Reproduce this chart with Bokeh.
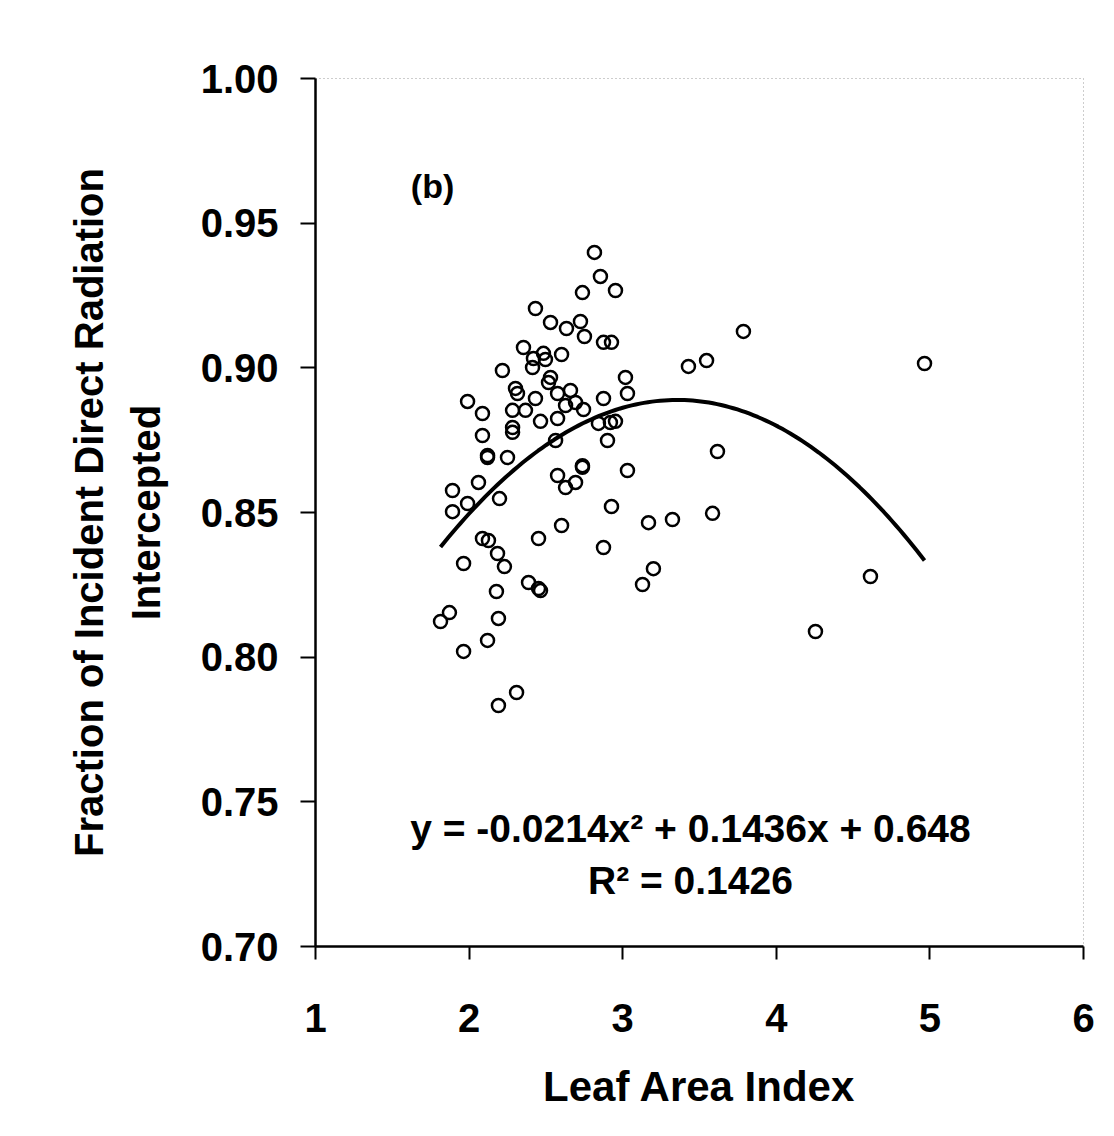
import numpy as np
from bokeh.plotting import figure
from bokeh.models import Range1d, FixedTicker, LinearAxis, Label, NumeralTickFormatter
from bokeh.embed import file_html
from bokeh.resources import INLINE

# Leaf Area Index (x) and fraction of incident direct radiation intercepted (y)
lai = [2.816, 2.855, 2.738, 2.953, 2.432, 2.530, 2.634, 2.725, 2.751, 2.875,
       2.927, 2.354, 2.484, 2.602, 2.419, 2.497, 2.413, 2.217, 2.530, 2.517,
       3.018, 3.031, 2.302, 2.315, 2.432, 2.576, 2.660, 2.693, 2.875, 1.990,
       2.283, 2.367, 2.628, 2.745, 2.087, 2.283, 2.283, 2.465, 2.576, 2.842,
       2.920, 2.953, 2.087, 2.901, 2.563, 2.120, 2.120, 2.250, 2.738, 2.738,
       3.031, 2.576, 2.693, 2.628, 2.061, 1.892, 2.198, 1.990, 1.892, 2.927,
       3.168, 3.324, 2.602, 2.452, 2.875, 2.087, 2.126, 2.185, 2.230, 1.964,
       2.387, 2.452, 2.465, 2.178, 3.200, 3.129, 1.872, 1.814, 2.191, 2.120,
       1.964, 2.309, 2.191, 3.786, 3.546, 3.428, 4.965, 3.617, 3.585, 4.613,
       4.255]
fraction = [0.9399, 0.9316, 0.9260, 0.9267, 0.9205, 0.9157, 0.9136, 0.9160, 0.9108, 0.9088,
            0.9088, 0.9070, 0.9050, 0.9046, 0.9032, 0.9029, 0.9001, 0.8991, 0.8967, 0.8949,
            0.8967, 0.8911, 0.8929, 0.8911, 0.8894, 0.8911, 0.8922, 0.8880, 0.8894, 0.8884,
            0.8853, 0.8853, 0.8870, 0.8856, 0.8842, 0.8794, 0.8777, 0.8815, 0.8825, 0.8808,
            0.8811, 0.8815, 0.8766, 0.8749, 0.8749, 0.8697, 0.8690, 0.8690, 0.8662, 0.8656,
            0.8645, 0.8628, 0.8604, 0.8586, 0.8604, 0.8576, 0.8548, 0.8531, 0.8503, 0.8521,
            0.8465, 0.8476, 0.8455, 0.8410, 0.8379, 0.8410, 0.8403, 0.8358, 0.8313, 0.8324,
            0.8258, 0.8237, 0.8230, 0.8227, 0.8306, 0.8251, 0.8154, 0.8123, 0.8134, 0.8058,
            0.8020, 0.7878, 0.7833, 0.9126, 0.9025, 0.9005, 0.9015, 0.8711, 0.8497, 0.8279,
            0.8089]

# Polynomial trendline coefficients printed on the chart (a*x^2 + b*x + c)
fit_coeffs = [-0.0214, 0.1436, 0.648]
x_ticks = [1, 2, 3, 4, 5, 6]
y_ticks = [0.70, 0.75, 0.80, 0.85, 0.90, 0.95, 1.00]
equation_text = "y = -0.0214x\u00b2 + 0.1436x + 0.648"
r2_text = "R\u00b2 = 0.1426"
panel_text = "(b)"

FONT = "'Liberation Sans', Arial, sans-serif"

p = figure(frame_width=768, frame_height=868,
           x_range=Range1d(1, 6), y_range=Range1d(0.70, 1.00),
           output_backend="svg", toolbar_location=None,
           min_border_left=315, min_border_top=78,
           min_border_right=31, min_border_bottom=190,
           background_fill_color="white", border_fill_color="white")

p.grid.visible = False
p.outline_line_color = "#9a9a9a"
p.outline_line_dash = "1 3"
p.outline_line_width = 1

# x axis
xa = p.xaxis[0]
xa.ticker = FixedTicker(ticks=x_ticks)
xa.formatter = NumeralTickFormatter(format="0")
xa.axis_line_width = 2.5
xa.axis_line_color = "black"
xa.major_tick_line_width = 2
xa.major_tick_out = 13
xa.major_tick_in = 0
xa.minor_tick_line_color = None
xa.major_label_text_font = FONT
xa.major_label_text_font_style = "bold"
xa.major_label_text_font_size = "40px"
xa.major_label_text_color = "black"
xa.major_label_standoff = 44
xa.axis_label = "Leaf Area Index"
xa.axis_label_text_font = FONT
xa.axis_label_text_font_style = "bold"
xa.axis_label_text_font_size = "42px"
xa.axis_label_text_color = "black"
xa.axis_label_standoff = 28

# y axis (inner label line)
ya = p.yaxis[0]
ya.ticker = FixedTicker(ticks=y_ticks)
ya.formatter = NumeralTickFormatter(format="0.00")
ya.axis_line_width = 2.5
ya.axis_line_color = "black"
ya.major_tick_line_width = 2
ya.major_tick_out = 15
ya.major_tick_in = 0
ya.minor_tick_line_color = None
ya.major_label_text_font = FONT
ya.major_label_text_font_style = "bold"
ya.major_label_text_font_size = "40px"
ya.major_label_text_color = "black"
ya.major_label_standoff = 22
ya.axis_label = "Intercepted"
ya.axis_label_text_font = FONT
ya.axis_label_text_font_style = "bold"
ya.axis_label_text_font_size = "40px"
ya.axis_label_text_color = "black"
ya.axis_label_standoff = 30

# outer y-axis carrying the first line of the y label
outer = LinearAxis(ticker=FixedTicker(ticks=[]),
                   axis_label="Fraction of Incident Direct Radiation",
                   axis_line_color=None, major_tick_out=0, major_tick_in=0,
                   minor_tick_out=0, minor_tick_in=0, major_label_standoff=0,
                   major_tick_line_color=None, minor_tick_line_color=None,
                   axis_label_standoff=10,
                   axis_label_text_font=FONT, axis_label_text_font_style="bold",
                   axis_label_text_font_size="40px", axis_label_text_color="black")
p.add_layout(outer, "left")

# scatter
p.scatter(lai, fraction, marker="circle", size=13, fill_color=None,
          line_color="black", line_width=2.5)

# trendline from the printed polynomial
xs = np.linspace(min(lai), max(lai), 120)
ys = np.polyval(fit_coeffs, xs)
p.line(xs, ys, line_color="black", line_width=4)

# annotations
p.add_layout(Label(x=3.441, y=0.7408, text=equation_text, text_align="center",
                   text_baseline="middle", text_font=FONT, text_font_style="bold",
                   text_font_size="39px", text_color="black"))
p.add_layout(Label(x=3.441, y=0.7228, text=r2_text, text_align="center",
                   text_baseline="middle", text_font=FONT, text_font_style="bold",
                   text_font_size="39px", text_color="black"))
p.add_layout(Label(x=1.762, y=0.963, text=panel_text, text_align="center",
                   text_baseline="middle", text_font=FONT, text_font_style="bold",
                   text_font_size="34px", text_color="black"))

open("out.html", "w").write(file_html(p, INLINE))
